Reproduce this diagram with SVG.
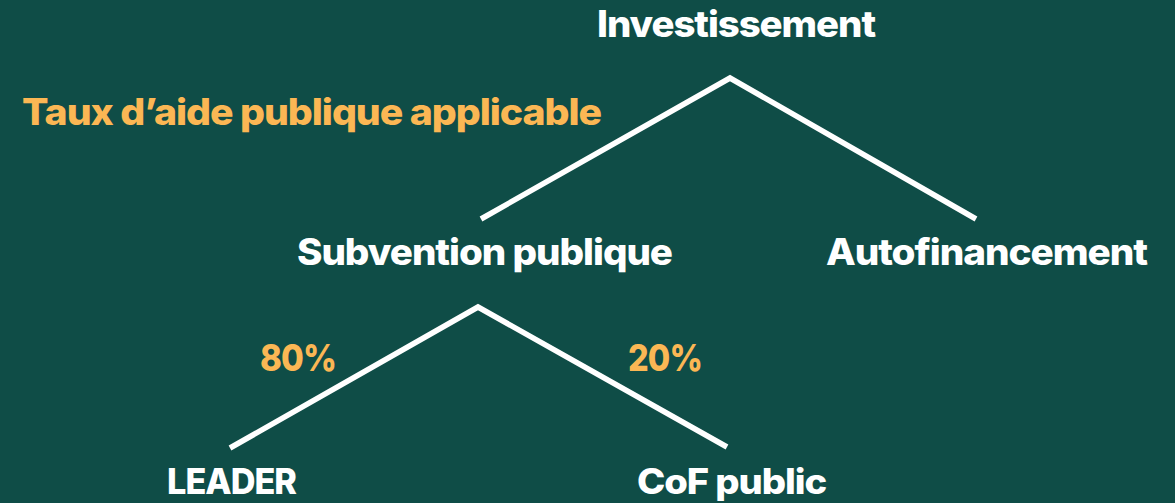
<svg xmlns="http://www.w3.org/2000/svg" width="1175" height="503" viewBox="0 0 1175 503">
<style>
.t{font-family:Inter,"Open Sans","Liberation Sans",sans-serif;font-weight:800;font-size:37px;letter-spacing:-1px}
.b{font-size:35px}
.w{fill:#ffffff}
.o{fill:#fbb754}
.c{fill:none;stroke:#ffffff;stroke-width:5.5}
</style>
<rect width="1175" height="503" fill="#0f4d47"/>
<g id="connectors">
<polyline class="c" points="481,219 730,78 976,219"/>
<polyline class="c" points="230,448 478,307 727,447"/>
</g>
<g id="title"><text class="t o" x="22" y="125" textLength="579" lengthAdjust="spacingAndGlyphs">Taux d’aide publique applicable</text></g>
<g id="investissement"><text class="t w" x="597" y="37" textLength="278" lengthAdjust="spacingAndGlyphs">Investissement</text></g>
<g id="subvention"><text class="t w" x="297" y="265" textLength="375" lengthAdjust="spacingAndGlyphs">Subvention publique</text></g>
<g id="autofinancement"><text class="t w" x="826" y="265" textLength="321" lengthAdjust="spacingAndGlyphs">Autofinancement</text></g>
<g id="pct80"><text class="t o" x="260" y="371" textLength="76" lengthAdjust="spacingAndGlyphs">80%</text></g>
<g id="pct20"><text class="t o" x="628" y="371" textLength="74" lengthAdjust="spacingAndGlyphs">20%</text></g>
<g id="leader"><text class="t b w" x="167" y="494" textLength="129" lengthAdjust="spacingAndGlyphs">LEADER</text></g>
<g id="cof"><text class="t b w" x="637" y="494" textLength="189" lengthAdjust="spacingAndGlyphs">CoF public</text></g>
</svg>
